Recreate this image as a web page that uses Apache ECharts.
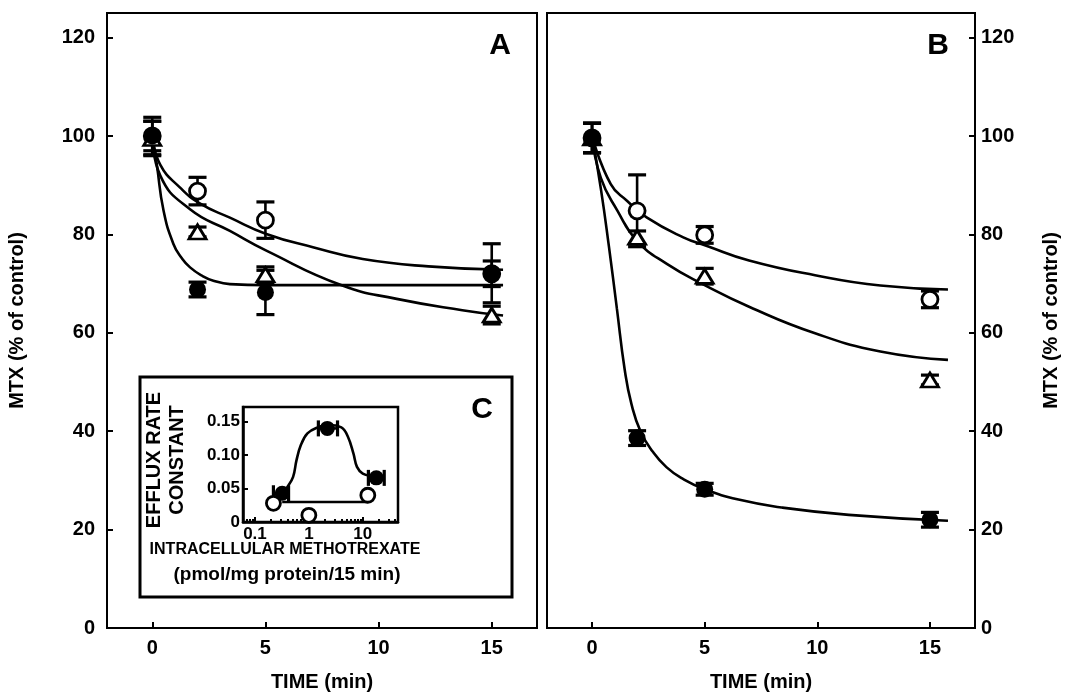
<!DOCTYPE html>
<html>
<head>
<meta charset="utf-8">
<script src="https://cdn.jsdelivr.net/npm/echarts@6/dist/echarts.min.js"></script>
<style>html,body{margin:0;padding:0;background:#fff}#c{width:1067px;height:697px}</style>
</head>
<body>
<div id="c"></div>
<script>
// ---------- data ----------
const timeTicks = [0, 5, 10, 15];
const yTicks = [0, 20, 40, 60, 80, 100, 120];
const times = [0, 2, 5, 15];

// Panel A markers (mean, error)
const A_filled = [100, 68.8, 68.2, 72.1];
const A_filledErr = [3.8, 1.5, 4.5, 6.0];
const A_open = [100, 88.8, 82.9, 72.0];
const A_openErr = [3.0, 2.8, 3.7, 2.6];
const A_tri = [99.5, 80.5, 71.8, 63.6];
const A_triErr = [3.5, 1.0, 1.6, 1.8];

// Panel A fitted curves
const A_filledCurveT = [0, 0.2, 0.5, 0.94, 1.3, 1.67, 2.2, 2.7, 3.43, 5, 10, 15.5];
const A_filledCurveY = [100, 94.2, 84.8, 78, 75.2, 73.3, 71.6, 70.6, 69.9, 69.7, 69.7, 69.7];
const A_openCurveT = [0, 0.35, 1.23, 2.1, 3.43, 5.04, 7.1, 9.3, 12.2, 15.5];
const A_openCurveY = [100, 94.2, 89.5, 86.3, 83.4, 80.1, 77.4, 75, 73.5, 72.8];
const A_triCurveT = [0, 0.35, 1.67, 3.43, 5.04, 8.4, 10.8, 13.7, 15.5];
const A_triCurveY = [100, 92, 85.1, 80.7, 76.7, 69.6, 66.9, 64.6, 63.5];

// Panel B markers
const B_filled = [99.6, 38.6, 28.2, 22.0];
const B_filledErr = [3.0, 1.5, 1.2, 1.5];
const B_open = [99.6, 84.8, 79.9, 66.8];
const B_openErr = [3.0, 7.3, 1.7, 1.7];
const B_tri = [99.6, 79.4, 71.5, 50.4];
const B_triErr = [3.0, 1.3, 1.6, 1.0];

// Panel B fitted curves
const B_filledCurveT = [0, 0.4, 0.75, 1.1, 1.45, 1.75, 2.15, 2.7, 3.3, 4.0, 5.0, 6.5, 8.4, 11.4, 15.8];
const B_filledCurveY = [100, 89, 77.5, 65, 52.5, 45.5, 40, 35.8, 32.7, 30.4, 28.2, 26.1, 24.5, 23.0, 21.8];
const B_openCurveT = [0, 0.83, 1.56, 2.44, 4.05, 5.07, 6.97, 9.9, 12.8, 15.8];
const B_openCurveY = [100, 90.2, 86.8, 83.4, 79.4, 77.7, 74.7, 71.7, 69.6, 68.8];
const B_triCurveT = [0, 0.39, 1.13, 2.0, 3.32, 5.04, 6.97, 9.9, 12.8, 15.8];
const B_triCurveY = [100, 91.5, 84.8, 78.7, 74, 69.6, 65.3, 59.9, 56.2, 54.5];

// Inset C
const C_xTicks = [0.1, 1, 10];
const C_xMinor = [0.07, 0.08, 0.09, 0.2, 0.3, 0.4, 0.5, 0.6, 0.7, 0.8, 0.9, 2, 3, 4, 5, 6, 7, 8, 9, 20, 30, 40];
const C_yTicks = [0, 0.05, 0.10, 0.15];
const C_filledX = [0.32, 2.2, 17.8];
const C_filledY = [0.043, 0.14, 0.066];
const C_filledXlo = [0.22, 1.5, 12.7];
const C_filledXhi = [0.42, 3.4, 25];
const C_openX = [0.22, 1.0, 12.4];
const C_openY = [0.028, 0.010, 0.040];
const C_bellX = [0.32, 0.40, 0.51, 0.59, 0.71, 0.94, 1.46, 2.2, 4.0, 5.3, 6.7, 7.8, 10, 16.7, 17.8];
const C_bellY = [0.043, 0.0525, 0.0675, 0.0925, 0.115, 0.1325, 0.1415, 0.145, 0.1415, 0.1275, 0.1025, 0.0825, 0.0725, 0.0675, 0.066];
const C_flatX = [0.32, 12.4];
const C_flatY = [0.03, 0.03];

// ---------- helpers ----------
const FONT = 'Liberation Sans';
const zip = (a, b) => a.map((v, i) => [v, b[i]]);
const zip3 = (a, b, c) => a.map((v, i) => [v, b[i], c[i]]);
const zip4 = (a, b, c, d) => a.map((v, i) => [v, b[i], c[i], d[i]]);
const lw = 2.6;

function vErr(params, api) {
  const x = api.value(0), y = api.value(1), e = api.value(2);
  const t = api.coord([x, y + e]), b = api.coord([x, y - e]);
  const hw = 9;
  return { type: 'group', children: [
    { type: 'line', shape: { x1: t[0], y1: t[1], x2: b[0], y2: b[1] }, style: { stroke: '#000', lineWidth: 2.6 } },
    { type: 'line', shape: { x1: t[0] - hw, y1: t[1], x2: t[0] + hw, y2: t[1] }, style: { stroke: '#000', lineWidth: 3.2 } },
    { type: 'line', shape: { x1: b[0] - hw, y1: b[1], x2: b[0] + hw, y2: b[1] }, style: { stroke: '#000', lineWidth: 3.2 } }
  ]};
}
function hErr(params, api) {
  const y = api.value(1), lo = api.value(2), hi = api.value(3);
  const l = api.coord([lo, y]), r = api.coord([hi, y]);
  const hh = 8;
  return { type: 'group', children: [
    { type: 'line', shape: { x1: l[0], y1: l[1], x2: r[0], y2: r[1] }, style: { stroke: '#000', lineWidth: 2.6 } },
    { type: 'line', shape: { x1: l[0], y1: l[1] - hh, x2: l[0], y2: l[1] + hh }, style: { stroke: '#000', lineWidth: 3.2 } },
    { type: 'line', shape: { x1: r[0], y1: r[1] - hh, x2: r[0], y2: r[1] + hh }, style: { stroke: '#000', lineWidth: 3.2 } }
  ]};
}
function curve(name, xi, yi, t, y) {
  return { name, type: 'line', xAxisIndex: xi, yAxisIndex: yi, data: zip(t, y), smooth: 0.5,
    showSymbol: false, symbol: 'none', lineStyle: { color: '#000', width: lw }, z: 3, silent: true };
}
function errS(name, xi, yi, t, y, e) {
  return { name, type: 'custom', xAxisIndex: xi, yAxisIndex: yi, data: zip3(t, y, e), renderItem: vErr, z: 4, silent: true };
}
function mk(name, xi, yi, t, y, kind, size) {
  const base = { name, type: 'scatter', xAxisIndex: xi, yAxisIndex: yi, data: zip(t, y), z: 5, silent: true };
  if (kind === 'filled') return Object.assign(base, { symbol: 'circle', symbolSize: size || 17, itemStyle: { color: '#000', opacity: 1 }, z: 6 });
  if (kind === 'open') return Object.assign(base, { symbol: 'circle', symbolSize: size || 16, itemStyle: { color: '#fff', borderColor: '#000', borderWidth: 2.8, opacity: 1 } });
  return Object.assign(base, { symbol: 'triangle', symbolSize: size || [17, 14], itemStyle: { color: '#fff', borderColor: '#000', borderWidth: 2.8, opacity: 1 } });
}

const axLabel = { color: '#000', fontFamily: FONT, fontSize: 20, fontWeight: 'bold' };

function timeAxis(gi) {
  return { type: 'value', gridIndex: gi, min: -2, max: 17,
    axisLine: { show: true, onZero: false, lineStyle: { color: '#000', width: 2 } },
    axisTick: { show: true, inside: true, length: 6, lineStyle: { color: '#000', width: 2 }, customValues: timeTicks },
    axisLabel: Object.assign({ margin: 10, customValues: timeTicks }, axLabel),
    splitLine: { show: false },
    name: 'TIME (min)', nameLocation: 'middle', nameGap: 44,
    nameTextStyle: { color: '#000', fontFamily: FONT, fontSize: 20, fontWeight: 'bold' } };
}
function mtxAxis(gi, pos) {
  return { type: 'value', gridIndex: gi, min: 0, max: 125, position: pos,
    axisLine: { show: true, onZero: false, lineStyle: { color: '#000', width: 2 } },
    axisTick: { show: true, inside: true, length: 6, lineStyle: { color: '#000', width: 2 }, customValues: yTicks },
    axisLabel: Object.assign({ margin: pos === 'left' ? 12 : 6, customValues: yTicks }, axLabel),
    splitLine: { show: false },
    name: 'MTX (% of control)', nameLocation: 'middle', nameRotate: 90, nameGap: pos === 'left' ? 80 : 66,
    nameTextStyle: { color: '#000', fontFamily: FONT, fontSize: 20, fontWeight: 'bold' } };
}

const chart = echarts.init(document.getElementById('c'), null, { renderer: 'canvas' });
const smallFont = { color: '#000', fontFamily: FONT, fontSize: 17, fontWeight: 'bold' };

const option = {
  animation: false,
  backgroundColor: '#fff',
  grid: [
    { left: 107, top: 13, width: 430, height: 620, show: true, borderColor: '#000', borderWidth: 2, backgroundColor: 'transparent', containLabel: false },
    { left: 547, top: 13, width: 428, height: 620, show: true, borderColor: '#000', borderWidth: 2, backgroundColor: 'transparent', containLabel: false },
    { left: 243, top: 407, width: 155, height: 115, show: true, borderColor: '#000', borderWidth: 2.5, backgroundColor: 'transparent', containLabel: false, z: 3 }
  ],
  xAxis: [
    timeAxis(0),
    timeAxis(1),
    { type: 'log', gridIndex: 2, min: 0.06, max: 45, logBase: 10, position: 'bottom',
      axisLine: { show: true, onZero: false, lineStyle: { color: '#000', width: 2.5 } },
      axisTick: { show: true, inside: true, length: 5, lineStyle: { color: '#000', width: 2 }, customValues: C_xTicks },
      axisLabel: Object.assign({ margin: 4, customValues: C_xTicks, formatter: v => String(v) }, smallFont),
      splitLine: { show: false } },
    { type: 'log', gridIndex: 2, min: 0.06, max: 45, logBase: 10, position: 'bottom',
      axisLine: { show: false, onZero: false },
      axisTick: { show: true, inside: true, length: 3, lineStyle: { color: '#000', width: 2 }, customValues: C_xMinor },
      axisLabel: { show: false },
      splitLine: { show: false } }
  ],
  yAxis: [
    mtxAxis(0, 'left'),
    mtxAxis(1, 'right'),
    { type: 'value', gridIndex: 2, min: 0, max: 0.172,
      axisLine: { show: true, onZero: false, lineStyle: { color: '#000', width: 2.5 } },
      axisTick: { show: true, inside: true, length: 5, lineStyle: { color: '#000', width: 2 }, customValues: C_yTicks },
      axisLabel: Object.assign({ margin: 3, customValues: C_yTicks, formatter: v => v === 0 ? '0' : v.toFixed(2) }, smallFont),
      splitLine: { show: false } }
  ],
  graphic: [
    { type: 'rect', z: -1, shape: { x: 140, y: 377, width: 372, height: 220 }, style: { fill: '#fff', stroke: '#000', lineWidth: 3 } },
    { type: 'text', z: 10, x: 154, y: 460, rotation: Math.PI / 2, style: { text: 'EFFLUX RATE', font: 'bold 20px ' + FONT, fill: '#000', textAlign: 'center', textVerticalAlign: 'middle' } },
    { type: 'text', z: 10, x: 177, y: 460, rotation: Math.PI / 2, style: { text: 'CONSTANT', font: 'bold 20px ' + FONT, fill: '#000', textAlign: 'center', textVerticalAlign: 'middle' } },
    { type: 'text', z: 10, x: 285, y: 550, style: { text: 'INTRACELLULAR METHOTREXATE', font: 'bold 16px ' + FONT, fill: '#000', textAlign: 'center', textVerticalAlign: 'middle' } },
    { type: 'text', z: 10, x: 287, y: 575, style: { text: '(pmol/mg protein/15 min)', font: 'bold 19px ' + FONT, fill: '#000', textAlign: 'center', textVerticalAlign: 'middle' } },
    { type: 'text', z: 10, x: 500, y: 46, style: { text: 'A', font: 'bold 30px ' + FONT, fill: '#000', textAlign: 'center', textVerticalAlign: 'middle' } },
    { type: 'text', z: 10, x: 938, y: 46, style: { text: 'B', font: 'bold 30px ' + FONT, fill: '#000', textAlign: 'center', textVerticalAlign: 'middle' } },
    { type: 'text', z: 10, x: 482, y: 410, style: { text: 'C', font: 'bold 30px ' + FONT, fill: '#000', textAlign: 'center', textVerticalAlign: 'middle' } }
  ],
  series: [
    curve('A filled fit', 0, 0, A_filledCurveT, A_filledCurveY),
    curve('A open fit', 0, 0, A_openCurveT, A_openCurveY),
    curve('A tri fit', 0, 0, A_triCurveT, A_triCurveY),
    errS('A open err', 0, 0, times, A_open, A_openErr),
    errS('A tri err', 0, 0, times, A_tri, A_triErr),
    errS('A filled err', 0, 0, times, A_filled, A_filledErr),
    mk('A open', 0, 0, times, A_open, 'open'),
    mk('A tri', 0, 0, times, A_tri, 'tri'),
    mk('A filled', 0, 0, times, A_filled, 'filled'),

    curve('B filled fit', 1, 1, B_filledCurveT, B_filledCurveY),
    curve('B open fit', 1, 1, B_openCurveT, B_openCurveY),
    curve('B tri fit', 1, 1, B_triCurveT, B_triCurveY),
    errS('B open err', 1, 1, times, B_open, B_openErr),
    errS('B tri err', 1, 1, times, B_tri, B_triErr),
    errS('B filled err', 1, 1, times, B_filled, B_filledErr),
    mk('B open', 1, 1, times, B_open, 'open'),
    mk('B tri', 1, 1, times, B_tri, 'tri'),
    mk('B filled', 1, 1, times, B_filled, 'filled'),

    Object.assign(curve('C bell', 2, 2, C_bellX, C_bellY), { smooth: 0.4 }),
    Object.assign(curve('C flat', 2, 2, C_flatX, C_flatY), { smooth: false }),
    { name: 'C filled err', type: 'custom', xAxisIndex: 2, yAxisIndex: 2, data: zip4(C_filledX, C_filledY, C_filledXlo, C_filledXhi), renderItem: hErr, z: 4, silent: true },
    mk('C open', 2, 2, C_openX, C_openY, 'open', 14),
    mk('C filled', 2, 2, C_filledX, C_filledY, 'filled', 15)
  ]
};
chart.setOption(option);
</script>
</body>
</html>
